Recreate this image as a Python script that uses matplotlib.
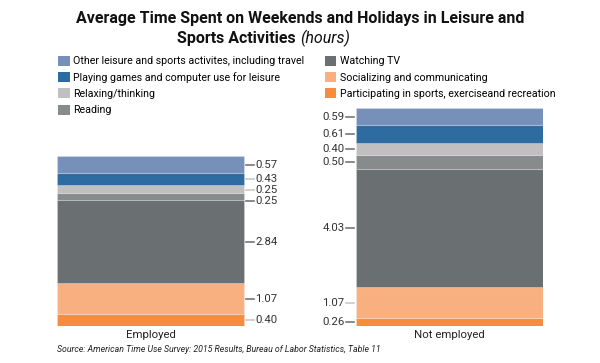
import matplotlib
matplotlib.use("Agg")
import matplotlib.pyplot as plt
from matplotlib.patches import Patch

plt.rcParams['font.family'] = ['Roboto', 'DejaVu Sans']

groups = ["Employed", "Not employed"]
# stacked from the bottom up
activities = [
    "Participating in sports, exerciseand recreation",
    "Socializing and communicating",
    "Watching TV",
    "Reading",
    "Relaxing/thinking",
    "Playing games and computer use for leisure",
    "Other leisure and sports activites, including travel",
]
employed = [0.40, 1.07, 2.84, 0.25, 0.25, 0.43, 0.57]
not_employed = [0.26, 1.07, 4.03, 0.50, 0.40, 0.61, 0.59]

colors = ["#f78b3e", "#f9b081", "#6a7071", "#878b8c", "#c1bfbf", "#2e6ba0", "#7690ba"]
tick_light = "#c9c9c9"
tick_dark = "#777777"
tick_cols = [
    [tick_light, tick_dark, tick_dark, tick_dark, tick_light, tick_light, tick_dark],
    [tick_dark, tick_light, tick_dark, tick_dark, tick_dark, tick_dark, tick_dark],
]

W, H = 600, 363
fig = plt.figure(figsize=(6, 3.63), dpi=100)

bar_w = 0.625
ax_left, ax_right = 57, 543
ax_bot, ax_top = 326, 108
ax = fig.add_axes([ax_left / W, 1 - ax_bot / H, (ax_right - ax_left) / W, (ax_bot - ax_top) / H])
ymax = max(sum(employed), sum(not_employed))
ax.set_xlim(-bar_w / 2, 1 + bar_w / 2)
ax.set_ylim(0, ymax)
ax.axis('off')

px_x = (1 + bar_w) / (ax_right - ax_left)   # data units per pixel
px_y = ymax / (ax_bot - ax_top)

for gi, vals in enumerate([employed, not_employed]):
    bottom = 0
    centers = []
    for v, c in zip(vals, colors):
        ax.bar(gi, v, bottom=bottom, width=bar_w, color=c,
               edgecolor=(1, 1, 1, 0.2), linewidth=0.8)
        centers.append(bottom + v / 2)
        bottom += v
    # spread labels from the top down so they don't collide
    ys = centers[::-1]
    lab = vals[::-1]
    tcs = tick_cols[gi][::-1]
    placed = []
    for y in ys:
        if placed and placed[-1] - y < 11 * px_y:
            y = placed[-1] - 11 * px_y
        placed.append(y)
    for y, v, tc in zip(placed, lab, tcs):
        if gi == 0:
            x0 = gi + bar_w / 2 + 2 * px_x
            x1 = x0 + 8 * px_x
            ax.plot([x0, x1], [y, y], color=tc, lw=1.2, clip_on=False)
            ax.text(x1 + 1.5 * px_x, y, f"{v:.2f}", ha='left', va='center',
                    fontsize=8.2, color="#333333")
        else:
            x0 = gi - bar_w / 2 - 2 * px_x
            x1 = x0 - 8 * px_x
            ax.plot([x0, x1], [y, y], color=tc, lw=1.2, clip_on=False)
            ax.text(x1 - 1.5 * px_x, y, f"{v:.2f}", ha='right', va='center',
                    fontsize=8.2, color="#333333")
    ax.text(gi, -9 * px_y, groups[gi], ha='center', va='center',
            fontsize=8.2, color="#222222")

# title
fig.text(0.5, 1 - 18 / H, "Average Time Spent on Weekends and Holidays in Leisure and",
         ha='center', va='center', fontsize=11.5, fontweight='bold',
         family=['Liberation Sans Narrow', 'Roboto'], color="#111111")
fig.text(0.5, 1 - 38 / H, "Sports Activities ", ha='right', va='center', fontsize=11.5,
         fontweight='bold', family=['Liberation Sans Narrow', 'Roboto'], color="#111111")
fig.text(0.5, 1 - 38 / H, "(hours)", ha='left', va='center', fontsize=11.5,
         style='italic', family=['Liberation Sans Narrow', 'Roboto'], color="#111111")

# legend
handles = [Patch(facecolor=c, edgecolor='none') for c in colors[::-1]]
fig.legend(handles, activities[::-1], ncol=2, loc='upper left',
           bbox_to_anchor=(54 / W, 1 - 51.5 / H), frameon=False, fontsize=7.7,
           handlelength=1.05, handleheight=1.05, handletextpad=0.35,
           columnspacing=1.9, labelspacing=0.52, borderaxespad=0)

fig.text(57 / W, 1 - 350 / H,
         "Source: American Time Use Survey: 2015 Results, Bureau of Labor Statistics, Table 11",
         ha='left', va='center', fontsize=6.3, style='italic', color="#222222")

fig.savefig("out.png", dpi=100, facecolor='white')
